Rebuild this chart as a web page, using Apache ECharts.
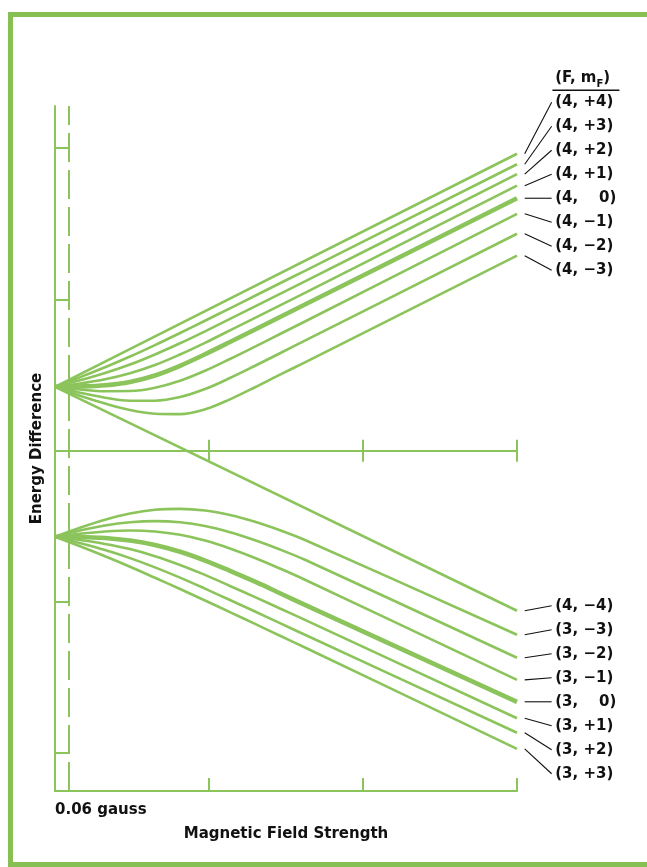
<!DOCTYPE html>
<html><head><meta charset="utf-8">
<script src="https://cdn.jsdelivr.net/npm/echarts@6/dist/echarts.min.js"></script>
<style>
html,body{margin:0;padding:0;background:#fff;}
#frame{position:absolute;left:8px;top:12px;width:720px;height:855px;box-sizing:border-box;border:5px solid #86bf52;}
#chart{position:absolute;left:0;top:0;width:647px;height:867px;}
</style></head><body>
<div id="frame"></div><div id="chart"></div>
<script>
// ---- data (field in axis-tick units, energy in axis-tick units) ----
const field     = [0, 0.162, 0.325, 0.487, 0.649, 0.812, 0.974, 1.136, 1.299, 1.461, 1.623, 3.0];
const fieldEnds = [0, 3.0];

// F = 4 levels
const E_4p4 = [0.423, 1.964];
const E_4p3 = [0.423, 0.486, 0.552, 0.623, 0.699, 0.779, 0.860, 0.942, 1.025, 1.108, 1.190, 1.895];
const E_4p2 = [0.423, 0.466, 0.514, 0.570, 0.637, 0.711, 0.790, 0.872, 0.955, 1.038, 1.120, 1.829];
const E_4p1 = [0.423, 0.445, 0.473, 0.513, 0.567, 0.637, 0.714, 0.796, 0.879, 0.962, 1.044, 1.753];
const E_40  = [0.423, 0.425, 0.433, 0.455, 0.498, 0.562, 0.638, 0.719, 0.802, 0.885, 0.967, 1.670];
const E_4m1 = [0.423, 0.405, 0.394, 0.395, 0.417, 0.463, 0.529, 0.607, 0.689, 0.772, 0.855, 1.567];
const E_4m2 = [0.423, 0.384, 0.351, 0.331, 0.331, 0.355, 0.408, 0.481, 0.562, 0.645, 0.728, 1.435];
const E_4m3 = [0.423, 0.364, 0.312, 0.269, 0.245, 0.242, 0.274, 0.340, 0.420, 0.503, 0.585, 1.290];
const E_4m4 = [0.423, -1.058];

// F = 3 levels
const E_3m3 = [-0.569, -0.509, -0.456, -0.415, -0.390, -0.384, -0.395, -0.425, -0.470, -0.526, -0.590, -1.217];
const E_3m2 = [-0.569, -0.527, -0.494, -0.473, -0.465, -0.473, -0.498, -0.539, -0.592, -0.653, -0.721, -1.369];
const E_3m1 = [-0.569, -0.549, -0.534, -0.527, -0.534, -0.556, -0.594, -0.646, -0.709, -0.779, -0.853, -1.515];
const E_30  = [-0.569, -0.570, -0.577, -0.594, -0.623, -0.668, -0.726, -0.794, -0.866, -0.942, -1.019, -1.660];
const E_3p1 = [-0.569, -0.590, -0.616, -0.650, -0.697, -0.755, -0.821, -0.894, -0.968, -1.043, -1.118, -1.769];
const E_3p2 = [-0.569, -0.611, -0.657, -0.710, -0.771, -0.839, -0.912, -0.987, -1.063, -1.140, -1.217, -1.865];
const E_3p3 = [-0.569, -0.632, -0.698, -0.767, -0.840, -0.914, -0.990, -1.067, -1.145, -1.223, -1.301, -1.971];

// labels
const levelF  = [4, 4, 4, 4, 4, 4, 4, 4, 4, 3, 3, 3, 3, 3, 3, 3];
const levelM  = [4, 3, 2, 1, 0, -1, -2, -3, -4, -3, -2, -1, 0, 1, 2, 3];
const levelLabels = ['(4, +4)', '(4, +3)', '(4, +2)', '(4, +1)', '(4,    0)', '(4, \u22121)', '(4, \u22122)', '(4, \u22123)',
                     '(4, \u22124)', '(3, \u22123)', '(3, \u22122)', '(3, \u22121)', '(3,    0)', '(3, +1)', '(3, +2)', '(3, +3)'];
const levelX = [fieldEnds, field, field, field, field, field, field, field, fieldEnds, field, field, field, field, field, field, field];
const levelE = [E_4p4, E_4p3, E_4p2, E_4p1, E_40, E_4m1, E_4m2, E_4m3, E_4m4, E_3m3, E_3m2, E_3m1, E_30, E_3p1, E_3p2, E_3p3];
const headerText = '(F, m{sub|F})';
const fieldLabel = '0.06 gauss';
const xTitle = 'Magnetic Field Strength';
const yTitle = 'Energy Difference';
const dashX = 0.085;

// ---- layout / style ----
const GREEN = '#8cc45c';
const INK = '#111111';
const FONT = 'DejaVu Sans';
const labelStep = 0.1587;          // vertical spacing of the side labels (axis units)
const leaderX0 = 3.05, leaderX1 = 3.225, labelX = 3.245, ulX1 = 3.665;

const last = a => a[a.length - 1];
const idx0U = levelM.findIndex((m, i) => levelF[i] === 4 && m === 0);
const idx0L = levelM.findIndex((m, i) => levelF[i] === 3 && m === 0);
const anchorU = last(levelE[idx0U]);
const anchorL = last(levelE[idx0L]);
function labelE(i) {
  const F = levelF[i], m = levelM[i];
  if (F === 4 && m > -4) return anchorU + m * labelStep;
  if (F === 4) return anchorL + 4 * labelStep;
  return anchorL - m * labelStep;
}

const series = [];
levelE.forEach((ys, i) => {
  const thick = levelM[i] === 0;
  series.push({
    type: 'line', xAxisIndex: 0, yAxisIndex: 0, silent: true, z: 3,
    data: levelX[i].map((x, k) => [x, ys[k]]),
    smooth: 0.35, showSymbol: false,
    lineStyle: { color: GREEN, width: thick ? 4.6 : 2.6 },
    markLine: i === 0 ? {
      silent: true, symbol: ['none', 'none'], label: { show: false },
      lineStyle: { color: GREEN, width: 2, type: [29, 8] },
      data: [{ xAxis: dashX }]
    } : undefined
  });
});

// leader lines + header underline (segments in data coordinates)
const segs = levelE.map((ys, i) => [leaderX0, last(ys), leaderX1, labelE(i), 1.1]);
segs.push([leaderX1 + 0.005, anchorU + 4.5 * labelStep, ulX1, anchorU + 4.5 * labelStep, 1.3]);
series.push({
  type: 'custom', xAxisIndex: 0, yAxisIndex: 0, silent: true, clip: false,
  encode: { x: [0, 2], y: [1, 3] },
  data: segs,
  renderItem: function (params, api) {
    const p0 = api.coord([api.value(0), api.value(1)]);
    const p1 = api.coord([api.value(2), api.value(3)]);
    return { type: 'line', shape: { x1: p0[0], y1: p0[1], x2: p1[0], y2: p1[1] },
             style: { stroke: INK, lineWidth: api.value(4), fill: null } };
  }
});
const labelStyle = { show: true, position: 'right', distance: 0, color: INK, fontFamily: FONT, fontWeight: 'bold', fontSize: 15, opacity: 1 };
// side labels
series.push({
  type: 'scatter', xAxisIndex: 0, yAxisIndex: 0, silent: true, clip: false, symbolSize: 1,
  itemStyle: { color: 'transparent', opacity: 1 },
  data: levelLabels.map((t, i) => ({ name: t, value: [labelX, labelE(i)] })),
  label: Object.assign({ formatter: '{b}' }, labelStyle)
});
// header
series.push({
  type: 'scatter', xAxisIndex: 0, yAxisIndex: 0, silent: true, clip: false, symbolSize: 1,
  itemStyle: { color: 'transparent', opacity: 1 },
  data: [{ name: 'hdr', value: [labelX, anchorU + 5 * labelStep] }],
  label: Object.assign({ formatter: headerText, lineHeight: 22,
    rich: { sub: { fontSize: 10, fontFamily: FONT, fontWeight: 'bold', color: INK, verticalAlign: 'bottom', lineHeight: 15 } } }, labelStyle)
});

const axisLineStyle = { color: GREEN, width: 2 };
const gridRect = { left: 55, right: 130, top: 106, bottom: 76 };
const titleStyle = { color: INK, fontFamily: FONT, fontWeight: 'bold', fontSize: 15 };
const option = {
  animation: false,
  backgroundColor: 'transparent',
  grid: [
    Object.assign({}, gridRect),
    { left: 55, right: 130, top: 148, bottom: 114 },
    Object.assign({}, gridRect),
    Object.assign({}, gridRect)
  ],
  xAxis: [
    { gridIndex: 0, type: 'value', min: 0, max: 3, interval: 1, position: 'bottom',
      axisLine: { onZero: false, lineStyle: axisLineStyle },
      axisTick: { inside: true, length: 13, lineStyle: axisLineStyle },
      splitLine: { show: false },
      axisLabel: { formatter: v => (v === 0 ? fieldLabel : ''), align: 'left', margin: 12,
                   color: INK, fontFamily: FONT, fontWeight: 'bold', fontSize: 15 },
      name: xTitle, nameLocation: 'middle', nameGap: 36, nameTextStyle: titleStyle },
    { gridIndex: 1, type: 'value', min: 0, max: 3, show: false },
    { gridIndex: 2, type: 'value', min: 0, max: 3, interval: 1, position: 'bottom',
      axisLine: { onZero: true, lineStyle: axisLineStyle },
      axisTick: { inside: false, length: 11, lineStyle: axisLineStyle },
      axisLabel: { show: false }, splitLine: { show: false } },
    { gridIndex: 3, type: 'value', min: 0, max: 3, interval: 1, position: 'bottom',
      axisLine: { onZero: true, lineStyle: axisLineStyle },
      axisTick: { inside: true, length: 11, lineStyle: axisLineStyle },
      axisLabel: { show: false }, splitLine: { show: false } }
  ],
  yAxis: [
    { gridIndex: 0, type: 'value', min: -2.25, max: 2.28,
      axisLine: { show: true, onZero: false, lineStyle: axisLineStyle },
      axisTick: { show: false }, axisLabel: { show: false }, splitLine: { show: false },
      name: yTitle, nameLocation: 'middle', nameRotate: 90, nameGap: 10, nameTextStyle: titleStyle },
    { gridIndex: 1, type: 'value', min: -2, max: 2, interval: 1,
      axisLine: { show: false, onZero: false },
      axisTick: { show: true, inside: true, length: 14, lineStyle: axisLineStyle },
      axisLabel: { show: false }, splitLine: { show: false } },
    { gridIndex: 2, type: 'value', min: -2.25, max: 2.28, show: false },
    { gridIndex: 3, type: 'value', min: -2.25, max: 2.28, show: false }
  ],
  series: series
};
const chart = echarts.init(document.getElementById('chart'), null, { renderer: 'canvas' });
chart.setOption(option);
</script>
</body></html>
